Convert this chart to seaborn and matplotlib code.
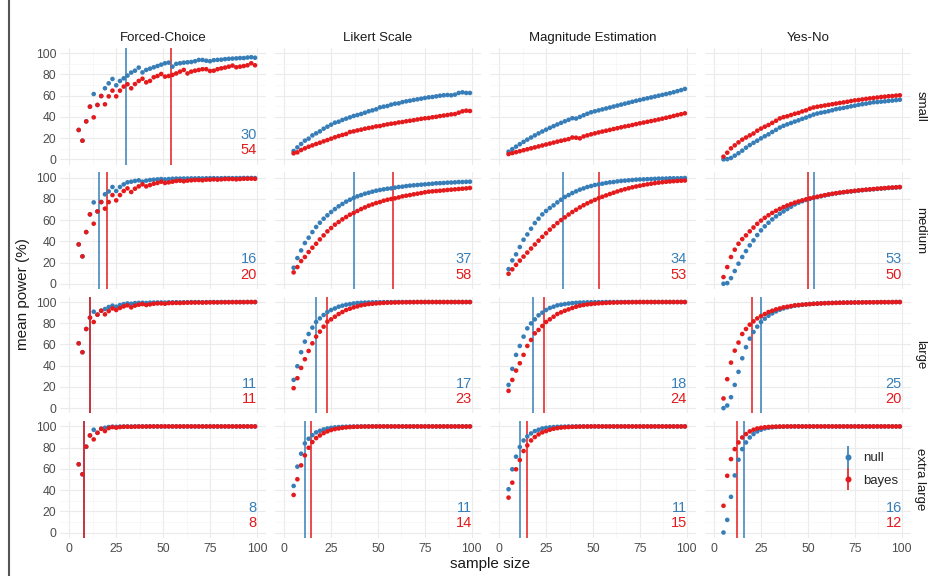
import numpy as np
import pandas as pd
import seaborn as sns
import matplotlib.pyplot as plt
from matplotlib.lines import Line2D
from matplotlib.ticker import MultipleLocator

sizes = list(range(5, 100, 2))
methods = ["Forced-Choice", "Likert Scale", "Magnitude Estimation", "Yes-No"]
effects = ["small", "medium", "large", "extra large"]

# sample size where power reaches 80% (None = never)
null_cut_small = [30, None, None, None]
bayes_cut_small = [54, None, None, None]
null_cut_medium = [16, 37, 34, 53]
bayes_cut_medium = [20, 58, 53, 50]
null_cut_large = [11, 17, 18, 25]
bayes_cut_large = [11, 23, 24, 20]
null_cut_xl = [8, 11, 11, 16]
bayes_cut_xl = [8, 14, 15, 12]

# ---- Forced-Choice
fc_small_null = [27.7, 17.6, 35.8, 49.7, 61.6, 51.3, 59.7, 67.0, 71.7, 75.8,
                 69.8, 73.9, 76.4, 79.0, 81.8, 83.6, 86.5, 82.0, 84.3, 85.5,
                 86.8, 88.0, 89.3, 90.6, 91.2, 87.4, 90.0, 90.6, 91.2, 91.5,
                 91.8, 92.5, 93.7, 93.7, 93.0, 92.5, 93.5, 93.8, 94.0, 94.5,
                 94.8, 95.0, 95.2, 95.5, 95.5, 96.0, 96.3, 95.8]
fc_small_bayes = [27.7, 17.6, 35.8, 49.7, 39.6, 51.3, 59.7, 51.9, 59.4, 64.8,
                  59.4, 64.8, 68.6, 70.8, 67.0, 71.0, 73.9, 76.0, 72.6, 74.0,
                  77.4, 78.6, 80.5, 78.0, 78.6, 79.6, 81.0, 82.7, 84.3, 81.0,
                  82.7, 83.6, 84.3, 85.0, 85.0, 83.3, 83.6, 85.0, 85.8, 86.5,
                  87.4, 88.4, 86.8, 87.4, 88.0, 88.7, 90.6, 88.7]
fc_medium_null = [37.1, 25.8, 48.7, 65.4, 76.7, 68.2, 77.0, 84.3, 87.0, 91.2,
                  87.4, 91.2, 93.7, 95.6, 96.2, 96.9, 97.5, 96.2, 97.2, 97.8,
                  98.1, 98.4, 98.7, 98.4, 98.7, 99.0, 99.1, 99.1, 99.2, 99.2,
                  99.3, 99.3, 99.4, 99.3, 99.4, 99.5, 99.5, 99.4, 99.5, 99.6,
                  99.6, 99.5, 99.6, 99.6, 99.7, 99.7, 99.7, 99.6]
fc_medium_bayes = [37.1, 25.8, 48.7, 65.4, 56.6, 68.2, 77.0, 70.8, 77.0, 83.6,
                   78.6, 83.6, 87.4, 89.9, 86.5, 89.6, 91.8, 93.7, 91.8, 93.0,
                   94.3, 95.0, 96.2, 95.0, 95.6, 96.2, 96.9, 97.2, 96.6, 97.2,
                   97.5, 97.8, 97.8, 97.5, 98.1, 98.1, 98.4, 98.1, 98.4, 98.7,
                   98.7, 98.7, 98.4, 98.7, 99.0, 99.0, 99.1, 98.9]
fc_large_null = [61.1, 52.7, 74.6, 85.3, 90.9, 88.1, 91.8, 93.4, 95.3, 96.6,
                 95.6, 97.2, 98.1, 98.7, 98.4, 99.0, 99.2, 99.3, 99.1, 99.4,
                 99.5, 99.6, 99.6, 99.5, 99.7, 99.7, 99.8, 99.7, 99.8, 99.8,
                 99.9, 99.9, 99.9, 99.8, 99.9, 99.9, 100, 99.9, 100, 100,
                 100, 100, 100, 100, 100, 100, 100, 100]
fc_large_bayes = [61.1, 52.7, 74.6, 85.3, 81.2, 88.1, 91.8, 88.4, 91.5, 94.0,
                  92.5, 94.4, 95.9, 96.9, 95.0, 96.6, 97.5, 98.1, 97.2, 97.8,
                  98.4, 98.7, 98.7, 98.4, 99.0, 99.1, 99.2, 99.1, 99.3, 99.4,
                  99.5, 99.5, 99.6, 99.5, 99.6, 99.7, 99.7, 99.7, 99.8, 99.8,
                  99.8, 99.9, 99.9, 99.9, 99.9, 100, 100, 100]
fc_xl_null = [64.3, 54.9, 80.9, 91.5, 96.9, 94.0, 97.8, 98.7, 99.4, 99.7,
              99.6, 99.8, 99.9, 99.9, 99.9, 100, 100, 100, 100, 100,
              100, 100, 100, 100, 100, 100, 100, 100, 100, 100,
              100, 100, 100, 100, 100, 100, 100, 100, 100, 100,
              100, 100, 100, 100, 100, 100, 100, 100]
fc_xl_bayes = [64.3, 54.9, 80.9, 91.5, 87.8, 94.0, 97.8, 95.6, 98.4, 99.4,
               98.8, 99.4, 99.7, 99.8, 99.6, 99.8, 99.9, 99.9, 99.9, 100,
               100, 100, 100, 100, 100, 100, 100, 100, 100, 100,
               100, 100, 100, 100, 100, 100, 100, 100, 100, 100,
               100, 100, 100, 100, 100, 100, 100, 100]

# ---- Likert Scale
lk_small_null = [7.9, 11.3, 14.5, 17.6, 19.5, 22.6, 24.5, 26.4, 28.9, 30.8,
                 32.7, 34.6, 35.5, 37.1, 38.4, 39.6, 40.9, 41.8, 42.8, 44.0,
                 45.3, 46.2, 47.2, 49.0, 49.7, 50.3, 51.6, 52.5, 52.8, 54.0,
                 54.7, 55.3, 56.0, 56.6, 57.2, 57.9, 58.5, 58.8, 59.4, 60.0,
                 60.4, 60.7, 60.4, 61.0, 62.6, 63.2, 62.6, 62.6]
lk_small_bayes = [5.7, 6.6, 8.8, 10.4, 11.9, 13.2, 14.5, 15.7, 17.0, 18.2,
                  19.5, 20.8, 22.0, 23.0, 23.9, 25.8, 26.4, 27.3, 28.0, 28.9,
                  29.6, 30.2, 31.1, 31.4, 32.3, 33.0, 33.6, 34.0, 34.8, 35.2,
                  35.9, 36.4, 36.9, 37.6, 38.2, 38.7, 39.0, 39.7, 40.1, 40.8,
                  41.3, 41.8, 42.4, 42.7, 44.0, 45.3, 45.9, 45.6]
lk_medium_null = [15.1, 24.2, 31.4, 38.4, 43.4, 48.7, 53.5, 57.5, 61.3, 64.5,
                  67.6, 70.4, 73.0, 75.2, 77.4, 79.2, 80.8, 82.4, 83.6, 84.9,
                  85.8, 86.8, 87.7, 88.4, 89.0, 89.6, 89.9, 90.6, 91.2, 91.5,
                  92.1, 92.5, 92.8, 93.1, 93.4, 93.7, 94.0, 94.3, 94.7, 94.8,
                  95.0, 95.3, 95.4, 95.6, 95.9, 95.9, 96.1, 96.2]
lk_medium_bayes = [10.7, 15.7, 21.4, 25.2, 29.9, 34.0, 37.7, 41.8, 45.6, 49.4,
                   52.5, 55.7, 58.2, 60.7, 62.9, 65.1, 66.7, 68.6, 70.4, 72.0,
                   73.6, 74.8, 76.1, 77.0, 78.3, 79.2, 79.9, 80.5, 81.4, 82.4,
                   83.0, 83.6, 84.3, 84.9, 85.5, 86.2, 86.8, 87.1, 87.4, 87.7,
                   88.0, 88.4, 88.7, 89.0, 89.3, 89.6, 89.9, 90.3]
lk_large_null = [26.6, 39.5, 52.7, 62.7, 69.9, 75.9, 81.2, 84.6, 87.8, 90.6,
                 92.5, 94.0, 95.6, 96.6, 97.5, 98.1, 98.7, 99.1, 99.3, 99.5,
                 99.6, 99.7, 99.8, 99.8, 99.9, 99.9, 99.9, 100, 100, 100,
                 100, 100, 100, 100, 100, 100, 100, 100, 100, 100,
                 100, 100, 100, 100, 100, 100, 100, 100]
lk_large_bayes = [18.8, 28.2, 37.9, 46.1, 53.9, 61.1, 67.4, 72.1, 76.8, 81.5,
                  83.7, 86.2, 88.7, 90.6, 92.5, 93.7, 95.0, 95.9, 96.9, 97.5,
                  98.1, 98.4, 98.7, 99.0, 99.2, 99.4, 99.5, 99.6, 99.7, 99.8,
                  99.8, 99.9, 99.9, 100, 100, 100, 100, 100, 100, 100,
                  100, 100, 100, 100, 100, 100, 100, 100]
lk_xl_null = [43.9, 62.1, 74.3, 84.0, 88.4, 91.8, 94.4, 95.9, 97.2, 98.1,
              98.7, 99.1, 99.4, 99.6, 99.7, 99.8, 99.9, 99.9, 100, 100,
              100, 100, 100, 100, 100, 100, 100, 100, 100, 100,
              100, 100, 100, 100, 100, 100, 100, 100, 100, 100,
              100, 100, 100, 100, 100, 100, 100, 100]
lk_xl_bayes = [35.4, 50.2, 63.3, 72.7, 79.9, 85.3, 89.0, 91.5, 93.7, 95.3,
               96.6, 97.5, 98.1, 98.7, 99.1, 99.4, 99.6, 99.7, 99.8, 99.9,
               99.9, 100, 100, 100, 100, 100, 100, 100, 100, 100,
               100, 100, 100, 100, 100, 100, 100, 100, 100, 100,
               100, 100, 100, 100, 100, 100, 100, 100]

# ---- Magnitude Estimation
me_small_null = [7.2, 9.6, 12.0, 14.3, 16.5, 18.6, 20.6, 22.6, 24.5, 26.3,
                 28.0, 29.7, 31.3, 32.9, 34.4, 35.9, 37.3, 38.8, 38.5, 40.0,
                 41.6, 43.0, 44.4, 45.3, 46.2, 47.1, 48.0, 48.9, 49.8, 50.7,
                 51.6, 52.5, 53.4, 54.3, 55.2, 56.0, 56.8, 57.6, 58.4, 59.2,
                 60.0, 60.8, 61.6, 62.4, 63.3, 64.3, 65.3, 66.4]
me_small_bayes = [5.0, 5.9, 6.8, 7.7, 8.6, 9.5, 10.4, 11.3, 12.2, 13.1,
                  14.0, 14.9, 15.8, 16.7, 17.5, 18.3, 19.1, 20.6, 20.4, 19.8,
                  21.6, 22.6, 23.6, 24.5, 25.4, 26.2, 27.0, 27.8, 28.6, 29.4,
                  30.2, 31.0, 31.6, 32.4, 33.2, 34.0, 34.7, 35.4, 36.1, 36.8,
                  37.6, 38.4, 39.2, 40.0, 40.9, 41.8, 42.6, 43.4]
me_medium_null = [13.8, 22.0, 27.7, 34.6, 41.5, 46.5, 51.9, 57.2, 61.3, 65.4,
                  68.6, 71.4, 73.9, 76.7, 79.2, 81.8, 83.6, 85.5, 87.1, 88.7,
                  89.9, 91.2, 92.1, 93.1, 93.7, 94.3, 95.0, 95.6, 95.9, 96.5,
                  96.9, 97.2, 97.5, 97.8, 98.1, 98.3, 98.4, 98.6, 98.7, 98.9,
                  99.1, 99.1, 99.2, 99.4, 99.4, 99.4, 99.5, 99.7]
me_medium_bayes = [9.4, 13.6, 17.8, 21.8, 25.6, 29.4, 33.2, 37.0, 40.6, 44.2,
                   47.6, 51.0, 54.2, 57.2, 60.0, 62.6, 65.2, 67.6, 69.8, 72.0,
                   74.0, 75.8, 77.5, 79.1, 80.6, 82.0, 83.3, 84.6, 85.8, 87.0,
                   88.1, 89.1, 90.0, 90.9, 91.7, 92.4, 93.1, 93.7, 94.3, 94.8,
                   95.3, 95.7, 96.1, 96.4, 96.7, 96.9, 97.1, 97.3]
me_large_null = [21.9, 37.0, 50.2, 58.6, 67.4, 75.2, 79.9, 83.7, 87.5, 90.0,
                 92.5, 94.4, 95.6, 96.9, 97.5, 98.1, 98.6, 99.0, 99.3, 99.5,
                 99.6, 99.7, 99.8, 99.8, 99.9, 99.9, 100, 100, 100, 100,
                 100, 100, 100, 100, 100, 100, 100, 100, 100, 100,
                 100, 100, 100, 100, 100, 100, 100, 100]
me_large_bayes = [16.3, 26.6, 35.4, 42.3, 50.2, 58.6, 64.3, 70.5, 73.7, 77.4,
                  81.2, 83.7, 86.2, 88.7, 90.3, 91.8, 93.1, 94.4, 95.6, 96.6,
                  97.2, 97.8, 98.1, 98.5, 98.8, 99.0, 99.2, 99.4, 99.5, 99.6,
                  99.7, 99.8, 99.8, 99.9, 99.9, 100, 100, 100, 100, 100,
                  100, 100, 100, 100, 100, 100, 100, 100]
me_xl_null = [40.8, 59.6, 71.5, 80.6, 86.8, 90.6, 93.4, 95.6, 96.9, 98.1,
              98.7, 99.1, 99.4, 99.6, 99.7, 99.8, 99.9, 99.9, 100, 100,
              100, 100, 100, 100, 100, 100, 100, 100, 100, 100,
              100, 100, 100, 100, 100, 100, 100, 100, 100, 100,
              100, 100, 100, 100, 100, 100, 100, 100]
me_xl_bayes = [32.9, 47.0, 59.6, 68.3, 76.8, 82.1, 86.8, 90.0, 92.5, 94.4,
               95.6, 96.9, 97.8, 98.4, 98.9, 99.2, 99.4, 99.6, 99.7, 99.8,
               99.9, 99.9, 100, 100, 100, 100, 100, 100, 100, 100,
               100, 100, 100, 100, 100, 100, 100, 100, 100, 100,
               100, 100, 100, 100, 100, 100, 100, 100]

# ---- Yes-No
yn_small_null = [0.0, 0.2, 1.3, 3.5, 5.8, 8.2, 11.0, 13.5, 15.6, 17.6,
                 19.8, 21.8, 23.6, 25.8, 27.8, 30.0, 31.6, 33.0, 34.3, 35.6,
                 36.8, 38.2, 39.4, 40.8, 42.2, 43.2, 44.0, 44.6, 45.4, 46.3,
                 47.3, 47.9, 48.5, 49.2, 50.0, 50.6, 51.4, 52.0, 52.5, 53.2,
                 53.8, 54.0, 54.4, 54.7, 55.1, 55.4, 55.8, 56.2]
yn_small_bayes = [2.5, 6.3, 10.4, 13.2, 16.0, 18.6, 20.6, 22.6, 24.4, 27.0,
                  29.0, 30.8, 32.4, 34.4, 36.4, 38.6, 39.8, 40.6, 41.8, 43.0,
                  43.8, 45.2, 46.2, 47.8, 48.9, 49.6, 50.2, 50.8, 51.4, 52.0,
                  52.6, 53.2, 53.7, 54.3, 55.0, 55.6, 56.0, 56.5, 57.0, 57.5,
                  57.9, 58.3, 58.8, 59.1, 59.5, 59.7, 60.1, 60.4]
yn_medium_null = [0.0, 0.6, 5.3, 12.0, 18.9, 25.2, 30.8, 36.2, 40.9, 45.9,
                  50.3, 54.1, 57.5, 60.7, 63.5, 66.0, 68.2, 70.4, 72.6, 74.8,
                  76.4, 77.8, 79.0, 80.0, 80.9, 81.7, 82.5, 83.3, 84.0, 84.6,
                  85.2, 85.7, 86.2, 86.6, 87.0, 87.4, 87.8, 88.2, 88.5, 88.8,
                  89.1, 89.4, 89.7, 90.0, 90.3, 90.5, 90.7, 91.0]
yn_medium_bayes = [6.3, 15.7, 25.2, 32.1, 37.7, 42.1, 45.6, 49.4, 53.0, 56.5,
                   59.5, 62.2, 64.6, 66.8, 68.8, 70.6, 72.3, 73.8, 75.2, 76.5,
                   77.6, 78.6, 79.6, 80.4, 81.2, 82.0, 82.8, 83.5, 84.2, 84.8,
                   85.4, 85.9, 86.4, 86.8, 87.2, 87.6, 88.0, 88.4, 88.7, 89.0,
                   89.3, 89.6, 89.9, 90.2, 90.5, 90.7, 90.9, 91.2]
yn_large_null = [0.0, 2.5, 10.3, 21.9, 34.2, 47.0, 57.4, 65.5, 71.8, 76.8,
                 81.2, 84.3, 87.1, 89.3, 91.2, 92.8, 94.0, 95.0, 95.8, 96.5,
                 97.0, 97.4, 97.8, 98.1, 98.4, 98.6, 98.8, 99.0, 99.1, 99.2,
                 99.3, 99.4, 99.5, 99.5, 99.6, 99.6, 99.7, 99.7, 99.8, 99.8,
                 99.8, 99.9, 99.9, 99.9, 99.9, 100, 100, 100]
yn_large_bayes = [9.1, 27.3, 42.9, 54.2, 61.8, 69.9, 74.6, 78.7, 81.8, 84.6,
                  86.8, 88.7, 90.6, 91.8, 93.1, 94.0, 95.0, 95.6, 96.2, 96.9,
                  97.2, 97.5, 97.8, 98.1, 98.3, 98.5, 98.7, 98.9, 99.0, 99.1,
                  99.2, 99.3, 99.4, 99.5, 99.5, 99.6, 99.6, 99.7, 99.7, 99.8,
                  99.8, 99.8, 99.9, 99.9, 99.9, 99.9, 100, 100]
yn_xl_null = [0.0, 11.9, 33.6, 53.8, 68.6, 78.6, 84.9, 89.6, 92.8, 95.3,
              96.9, 98.1, 98.7, 99.2, 99.5, 99.7, 99.8, 99.9, 99.9, 100,
              100, 100, 100, 100, 100, 100, 100, 100, 100, 100,
              100, 100, 100, 100, 100, 100, 100, 100, 100, 100,
              100, 100, 100, 100, 100, 100, 100, 100]
yn_xl_bayes = [25.2, 53.5, 69.2, 78.6, 84.9, 89.6, 92.8, 95.3, 96.9, 98.1,
               98.7, 99.2, 99.5, 99.7, 99.8, 99.9, 99.9, 100, 100, 100,
               100, 100, 100, 100, 100, 100, 100, 100, 100, 100,
               100, 100, 100, 100, 100, 100, 100, 100, 100, 100,
               100, 100, 100, 100, 100, 100, 100, 100]

blue = "#377EB8"
red = "#E41A1C"

series = {
    "small": [(fc_small_null, fc_small_bayes), (lk_small_null, lk_small_bayes),
              (me_small_null, me_small_bayes), (yn_small_null, yn_small_bayes)],
    "medium": [(fc_medium_null, fc_medium_bayes), (lk_medium_null, lk_medium_bayes),
               (me_medium_null, me_medium_bayes), (yn_medium_null, yn_medium_bayes)],
    "large": [(fc_large_null, fc_large_bayes), (lk_large_null, lk_large_bayes),
              (me_large_null, me_large_bayes), (yn_large_null, yn_large_bayes)],
    "extra large": [(fc_xl_null, fc_xl_bayes), (lk_xl_null, lk_xl_bayes),
                    (me_xl_null, me_xl_bayes), (yn_xl_null, yn_xl_bayes)],
}
cuts = {
    "small": (null_cut_small, bayes_cut_small),
    "medium": (null_cut_medium, bayes_cut_medium),
    "large": (null_cut_large, bayes_cut_large),
    "extra large": (null_cut_xl, bayes_cut_xl),
}

rows = []
for effect in effects:
    for method, (null_vals, bayes_vals) in zip(methods, series[effect]):
        for test, vals in (("null", null_vals), ("bayes", bayes_vals)):
            for n, p in zip(sizes, vals):
                rows.append({"effect": effect, "method": method, "test": test,
                             "n": n, "power": p})
df = pd.DataFrame(rows)

sns.set_theme(style="white")
plt.rcParams["font.family"] = ["Liberation Sans", "DejaVu Sans"]

g = sns.FacetGrid(df, row="effect", col="method", row_order=effects,
                  col_order=methods, height=1.4, aspect=1.8, despine=False)
g.map_dataframe(sns.scatterplot, x="n", y="power", hue="test",
                hue_order=["null", "bayes"], palette=[blue, red],
                s=11, linewidth=0, legend=False, zorder=3)
g.set_axis_labels("", "")
g.set(xlim=(-5, 105), ylim=(-5, 105), xticks=[0, 25, 50, 75, 100],
      yticks=[0, 20, 40, 60, 80, 100])

fig = g.figure
fig.set_size_inches(9.41, 5.76)
fig.subplots_adjust(left=0.0637, right=0.9682, top=0.9167, bottom=0.0663,
                    wspace=0.0416, hspace=0.066)

for i, effect in enumerate(effects):
    null_cut, bayes_cut = cuts[effect]
    for j, method in enumerate(methods):
        ax = g.axes[i, j]
        ax.set_title("")
        for sp in ax.spines.values():
            sp.set_visible(False)
        ax.set_axisbelow(True)
        ax.xaxis.set_minor_locator(MultipleLocator(12.5))
        ax.yaxis.set_minor_locator(MultipleLocator(10))
        ax.grid(True, which="major", color="#EBEBEB", lw=0.8)
        ax.grid(True, which="minor", color="#F5F5F5", lw=0.5)
        ax.tick_params(which="both", length=0, labelsize=8.8,
                       labelcolor="#4D4D4D")
        ax.tick_params(axis="y", pad=2.5)
        ax.tick_params(axis="x", pad=3.5)
        if null_cut[j] is not None:
            ax.axvline(null_cut[j], color=blue, lw=1.1, zorder=2)
            ax.axvline(bayes_cut[j], color=red, lw=1.1, zorder=2)
            ax.text(100, 23, str(null_cut[j]), color=blue, fontsize=10.5,
                    ha="right", va="center")
            ax.text(100, 8.5, str(bayes_cut[j]), color=red, fontsize=10.5,
                    ha="right", va="center")
        if i == 0:
            ax.set_title(method, fontsize=9.5, color="#1A1A1A", pad=5)
        if j == len(methods) - 1:
            ax.text(1.015, 0.5, effect, transform=ax.transAxes, rotation=-90,
                    ha="left", va="center", fontsize=9.5, color="#1A1A1A")

# legend: point on a vertical line
h_null = (Line2D([], [], color=blue, marker="|", markersize=16,
                 markeredgewidth=1.2, linestyle="none"),
          Line2D([], [], color=blue, marker="o", markersize=3.3, linestyle="none"))
h_bayes = (Line2D([], [], color=red, marker="|", markersize=16,
                  markeredgewidth=1.2, linestyle="none"),
           Line2D([], [], color=red, marker="o", markersize=3.3, linestyle="none"))
g.axes[3, 3].legend(handles=[h_null, h_bayes], labels=["null", "bayes"],
                    loc="center", bbox_to_anchor=(0.8, 0.585), frameon=False,
                    fontsize=9.5, handlelength=1.0, handletextpad=0.7,
                    labelspacing=0.8)

fig.text(0.024, 0.49, "mean power (%)", rotation=90, ha="center", va="center",
         fontsize=11, color="#1A1A1A")
fig.text(0.521, 0.021, "sample size", ha="center", va="center", fontsize=11,
         color="#1A1A1A")
fig.add_artist(Line2D([0.0095, 0.0095], [0, 1], transform=fig.transFigure,
                      color="#555555", lw=1.5))

fig.savefig("out.png", dpi=100)
